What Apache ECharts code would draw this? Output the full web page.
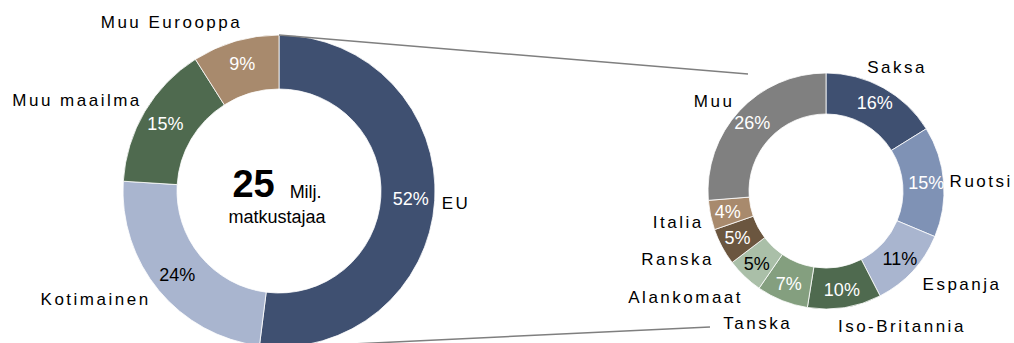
<!DOCTYPE html>
<html>
<head>
<meta charset="utf-8">
<script src="https://cdn.jsdelivr.net/npm/echarts@6/dist/echarts.min.js"></script>
<style>
  html, body { margin: 0; padding: 0; background: #fff; }
  #chart { width: 1014px; height: 343px; }
  /* category names are set with spread letters */
  #chart text[style*="17px"] { letter-spacing: 2.5px; }
</style>
</head>
<body>
<div id="chart"></div>
<script>
// Passengers by origin (share, %)
const originNames = ['EU', 'Kotimainen', 'Muu maailma', 'Muu Eurooppa'];
const originShares = [52, 24, 15, 9];

// EU passengers by country (share, %)
const countryNames = ['Saksa', 'Ruotsi', 'Espanja', 'Iso-Britannia', 'Tanska', 'Alankomaat', 'Ranska', 'Italia', 'Muu'];
const countryShares = [16, 15, 11, 10, 7, 5, 5, 4, 26];

// Total shown in the centre of the left ring
const totalPassengers = 25;
const totalUnit = 'Milj.';
const totalCaption = 'matkustajaa';

// ---- styling and layout ----
const FONT = 'Liberation Sans, Arial, sans-serif';
const leftRing = { cx: 279, cy: 191, r0: 102, r: 156 };
const rightRing = { cx: 826, cy: 191, r0: 77, r: 118 };

const originColors = ['#3f5071', '#a9b5cf', '#4f6a4f', '#a88a6d'];
const originLabelColors = ['#fff', '#000', '#fff', '#fff'];
const countryColors = ['#3f5071', '#7f92b5', '#a9b5cf', '#4f6a4f', '#849f7f', '#aabfa8', '#6b563f', '#a88a6d', '#808080'];
const countryLabelColors = ['#fff', '#fff', '#000', '#fff', '#fff', '#000', '#fff', '#fff', '#fff'];

// small offsets [dx, dy] for the outer name labels
const originNameNudge = [[-3, 2], [0, 4], [6, -7], [11, -11]];
const countryNameNudge = [[-22, -13], [-4, 0], [2, 8], [-10, 11], [15, 16], [6, 15], [1, 9], [3, 6], [3, -4]];

// zoom-out lines from the EU slice to the country ring
const connectors = [
  { from: [leftRing.cx, leftRing.cy - leftRing.r], to: [748, 74] },
  { from: [352, 344], to: [710, 327] }
];

function valueRing(names, values, colors, labelColors, g) {
  return {
    type: 'pie',
    center: [g.cx, g.cy],
    radius: [g.r0, g.r],
    startAngle: 90,
    clockwise: true,
    avoidLabelOverlap: false,
    silent: true,
    animation: false,
    itemStyle: { borderColor: '#fff', borderWidth: 0.8 },
    label: { position: 'inside', formatter: '{c}%', fontFamily: FONT, fontSize: 18 },
    labelLine: { show: false },
    data: names.map((n, i) => ({
      name: n,
      value: values[i],
      itemStyle: { color: colors[i] },
      label: { color: labelColors[i] }
    }))
  };
}

function nameRing(names, values, g, nudge) {
  return {
    type: 'pie',
    center: [g.cx, g.cy],
    radius: [g.r0, g.r],
    startAngle: 90,
    clockwise: true,
    avoidLabelOverlap: false,
    silent: true,
    animation: false,
    z: 3,
    itemStyle: { color: 'rgba(0,0,0,0)', borderWidth: 0 },
    label: {
      position: 'outside',
      formatter: '{b}',
      fontFamily: FONT,
      fontSize: 17,
      color: '#000',
      distanceToLabelLine: 2
    },
    labelLine: { show: false, length: 8, length2: 0 },
    labelLayout: p => ({ dx: nudge[p.dataIndex][0], dy: nudge[p.dataIndex][1] }),
    data: names.map((n, i) => ({ name: n, value: values[i] }))
  };
}

const chart = echarts.init(document.getElementById('chart'), null, { renderer: 'svg' });

chart.setOption({
  backgroundColor: '#fff',
  animation: false,
  series: [
    valueRing(originNames, originShares, originColors, originLabelColors, leftRing),
    nameRing(originNames, originShares, leftRing, originNameNudge),
    valueRing(countryNames, countryShares, countryColors, countryLabelColors, rightRing),
    nameRing(countryNames, countryShares, rightRing, countryNameNudge)
  ],
  graphic: [
    ...connectors.map(c => ({
      type: 'line',
      z: 10,
      silent: true,
      shape: { x1: c.from[0], y1: c.from[1], x2: c.to[0], y2: c.to[1] },
      style: { stroke: '#7f7f7f', lineWidth: 1.5 }
    })),
    {
      type: 'text',
      z: 10,
      silent: true,
      x: leftRing.cx - 2,
      y: leftRing.cy + 7,
      style: {
        text: '{big|' + totalPassengers + '}{unit|' + totalUnit + '}\n{cap|' + totalCaption + '}',
        align: 'center',
        verticalAlign: 'middle',
        fill: '#000',
        rich: {
          big: { fontFamily: FONT, fontSize: 38, fontWeight: 'bold', verticalAlign: 'bottom', fill: '#000' },
          unit: { fontFamily: FONT, fontSize: 18, verticalAlign: 'bottom', padding: [0, 0, 2, 15], fill: '#000' },
          cap: { fontFamily: FONT, fontSize: 18, lineHeight: 28, fill: '#000' }
        }
      }
    }
  ]
});
</script>
</body>
</html>
